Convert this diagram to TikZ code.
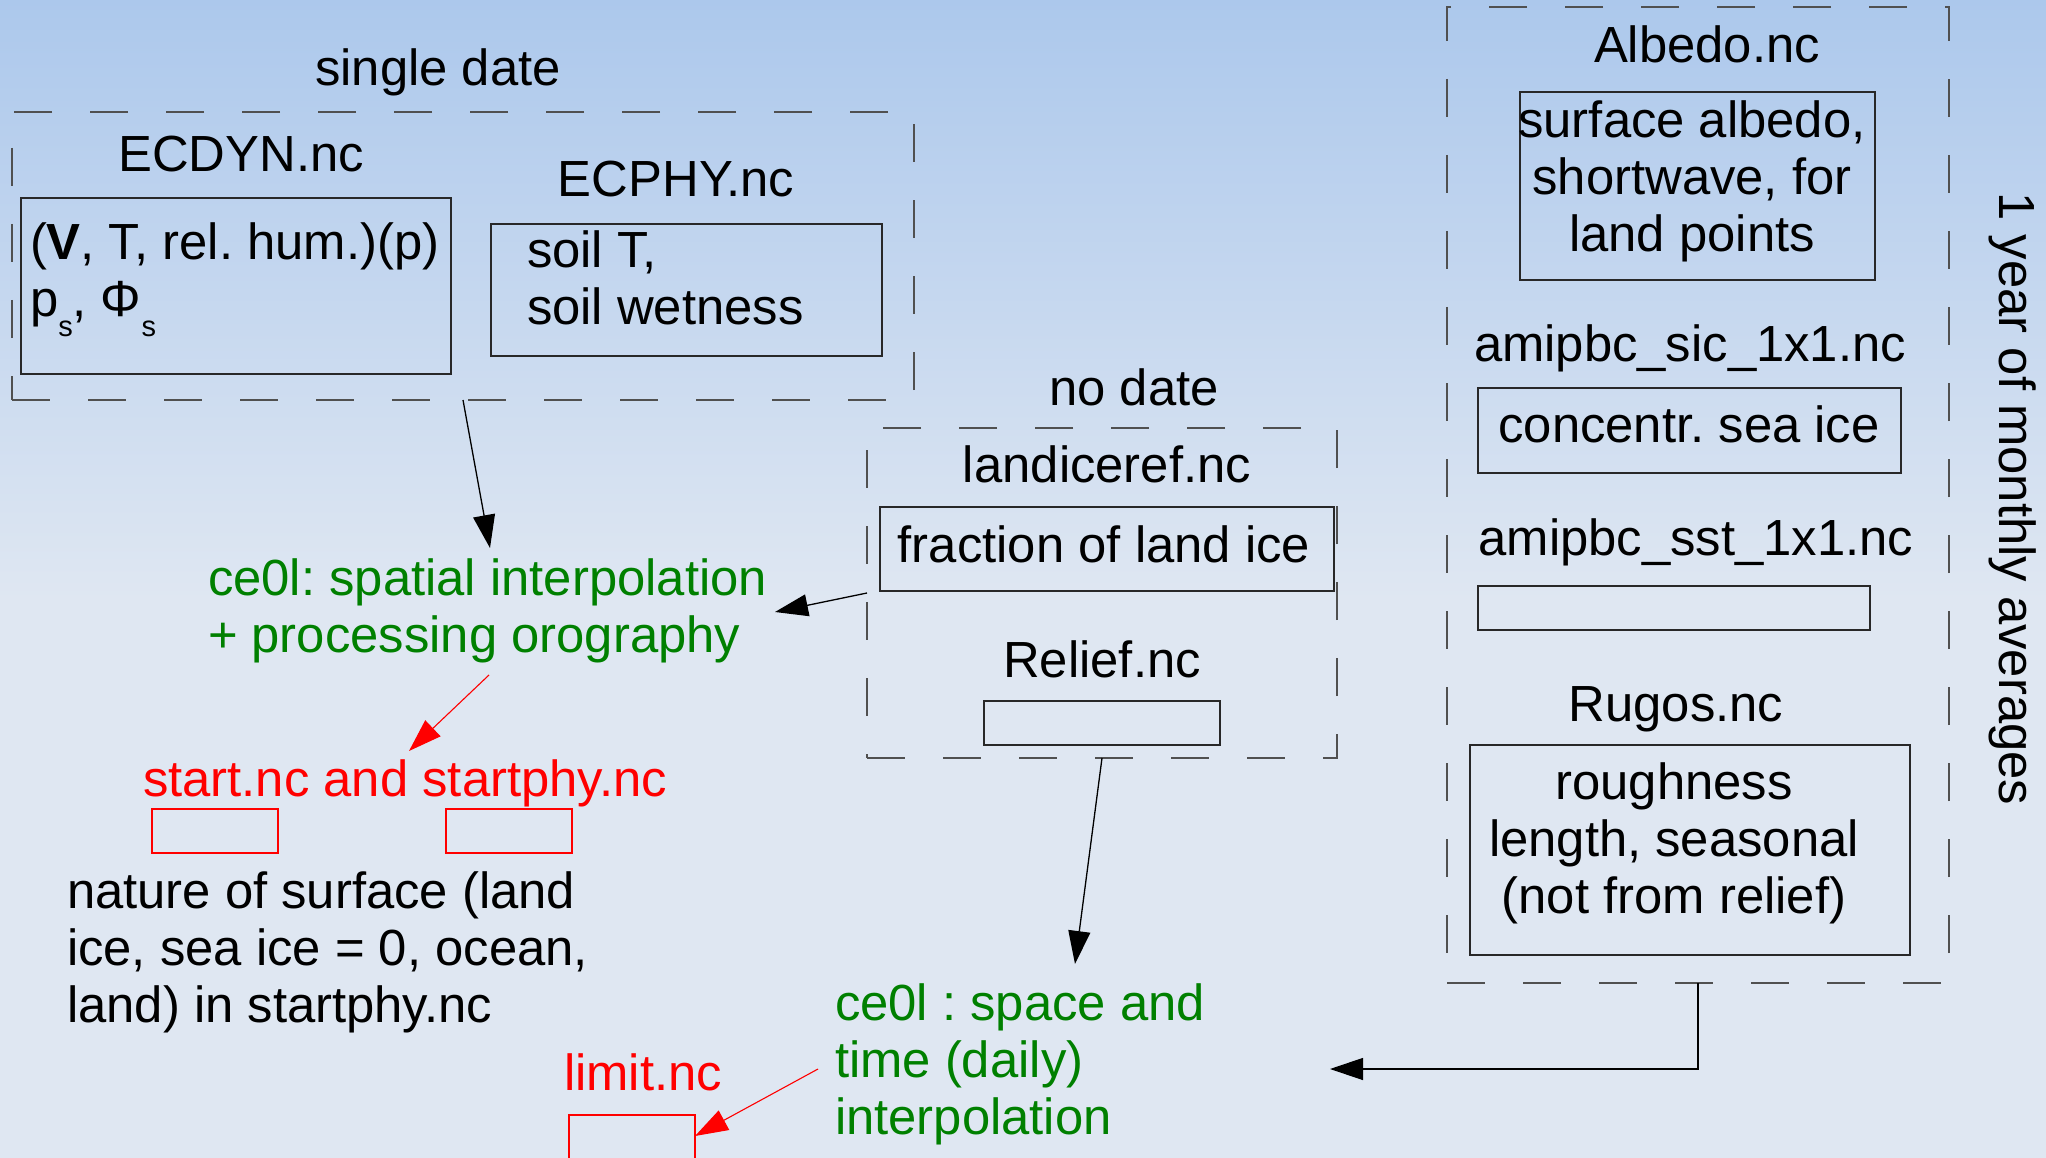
\documentclass[tikz,border=0pt]{standalone}
\usepackage{fontspec}
\setmainfont{Liberation Sans}
\usetikzlibrary{arrows.meta}
\frenchspacing
\definecolor{bgtop}{RGB}{172,200,236}
\definecolor{bgbot}{RGB}{223,231,242}
\definecolor{dgreen}{RGB}{0,128,0}
\definecolor{dashc}{RGB}{80,80,80}
\definecolor{boxc}{RGB}{40,40,40}
\newcommand\mlines[2][l]{\begin{tabular}[t]{@{}#1@{}}#2\end{tabular}}
\newcommand\subsc[1]{\raisebox{-20pt}{\fontsize{29}{30}\selectfont #1}}
\begin{document}
\begin{tikzpicture}[x=1pt,y=-1pt,
  every node/.style={inner sep=0pt, outer sep=0pt, font=\fontsize{50.8}{57}\selectfont},
  grp/.style={draw=dashc, line width=1.5pt, dash pattern=on 38pt off 38pt, rectangle},
  fbox/.style={draw=boxc, line width=1.4pt, rectangle},
  rbox/.style={draw=red, line width=1.2pt, rectangle},
  sz/.style 2 args={minimum width=#1pt, minimum height=#2pt},
  txt/.style={anchor=base west, align=left},
  lbl/.style={anchor=base},
  conn/.style={line width=1.3pt, -{Triangle[length=33pt,width=22pt]}},
  rconn/.style={red, line width=1.1pt, -{Triangle[length=33pt,width=22pt]}}
]
\useasboundingbox (0,0) rectangle (2046,1158);
\clip (0,0) rectangle (2046,1158);
\shade[top color=bgtop, bottom color=bgbot] (0,0) rectangle (2046,600);
\fill[bgbot] (0,599) rectangle (2046,1158);

% group boxes
\node[grp, sz={902}{288}] (sd) at (463,256) {};
\node[grp, sz={470}{330}] (nd) at (1102,593) {};
\node[grp, sz={502}{976}] (yr) at (1698,495) {};

% group labels
\node[lbl] (sdlbl) at (438,86) {single date};
\node[lbl] (ndlbl) at (1134,405) {no date};
\node[lbl, rotate=-90] (yrlbl) at (1999,499) {1 year of monthly averages};

% single date content
\node[lbl] (ecdynlbl) at (241,172) {ECDYN.nc};
\node[fbox, sz={430}{176}] (ecdynbox) at (236,286) {};
\node[txt] (ecdyntxt) at (30,260) {\mlines{(\textbf{V}, T, rel. hum.)(p)\\p\subsc{s}, Φ\subsc{s}}};
\node[lbl] (ecphylbl) at (676,197) {ECPHY.nc};
\node[fbox, sz={391}{132}] (ecphybox) at (686.5,290) {};
\node[txt] (ecphytxt) at (527,268) {\mlines{soil T,\\soil wetness}};

% no date content
\node[lbl] (landlbl) at (1107,482) {landiceref.nc};
\node[fbox, sz={454}{84}] (landbox) at (1107,549) {};
\node[lbl] (landtxt) at (1104,562) {fraction of land ice};
\node[lbl] (relieflbl) at (1102,677) {Relief.nc};
\node[fbox, sz={236}{44}] (reliefbox) at (1102,723) {};

% monthly content
\node[lbl] (albedolbl) at (1707,63) {Albedo.nc};
\node[fbox, sz={355}{188}] (albedobox) at (1697.5,186) {};
\node[lbl] (albedotxt) at (1692,138) {\mlines[c]{surface albedo,\\shortwave, for\\land points}};
\node[lbl] (siclbl) at (1690,362) {amipbc\_sic\_1x1.nc};
\node[fbox, sz={423}{85}] (sicbox) at (1689.5,430.5) {};
\node[lbl] (sictxt) at (1689,442) {concentr. sea ice};
\node[lbl] (sstlbl) at (1696,555) {amipbc\_sst\_1x1.nc};
\node[fbox, sz={392}{44}] (sstbox) at (1674,608) {};
\node[lbl] (ruglbl) at (1676,721) {Rugos.nc};
\node[fbox, sz={440}{210}] (rugbox) at (1690,850) {};
\node[lbl] (rugtxt) at (1674,799) {\mlines[c]{roughness\\length, seasonal\\(not from relief)}};

% processing texts
\node[txt, text=dgreen] (interp1) at (208,595) {\mlines{ce0l: spatial interpolation\\+ processing orography}};
\node[txt, text=red] (start) at (143,796) {start.nc and startphy.nc};
\node[rbox, sz={126}{44}] (startbox) at (215,831) {};
\node[rbox, sz={126}{44}] (startphybox) at (509,831) {};
\node[txt] (nature) at (67,908) {\mlines{nature of surface (land\\ice, sea ice = 0, ocean,\\land) in startphy.nc}};
\node[txt, text=red] (limit) at (564,1090) {limit.nc};
\node[rbox, sz={126}{88}] (limitbox) at (632,1159) {};
\node[txt, text=dgreen] (interp2) at (835,1020) {\mlines{ce0l : space and\\time (daily)\\interpolation}};

% connectors
\coordinate (t1) at (490,548);
\coordinate (t2) at (775,612);
\coordinate (r1s) at (489,675);
\coordinate (r1t) at (409,751);
\coordinate (t4) at (1075,964);
\coordinate (r2s) at (818,1069);
\coordinate (r2t) at (695,1136);
\coordinate (t6) at (1330,1069);
\draw[conn] (sd.south) -- (t1);
\draw[conn] (nd.west) -- (t2);
\draw[rconn] (r1s) -- (r1t);
\draw[conn] (nd.south) -- (t4);
\draw[rconn] (r2s) -- (r2t);
\draw[conn] (yr.south) |- (t6);
\end{tikzpicture}
\end{document}
